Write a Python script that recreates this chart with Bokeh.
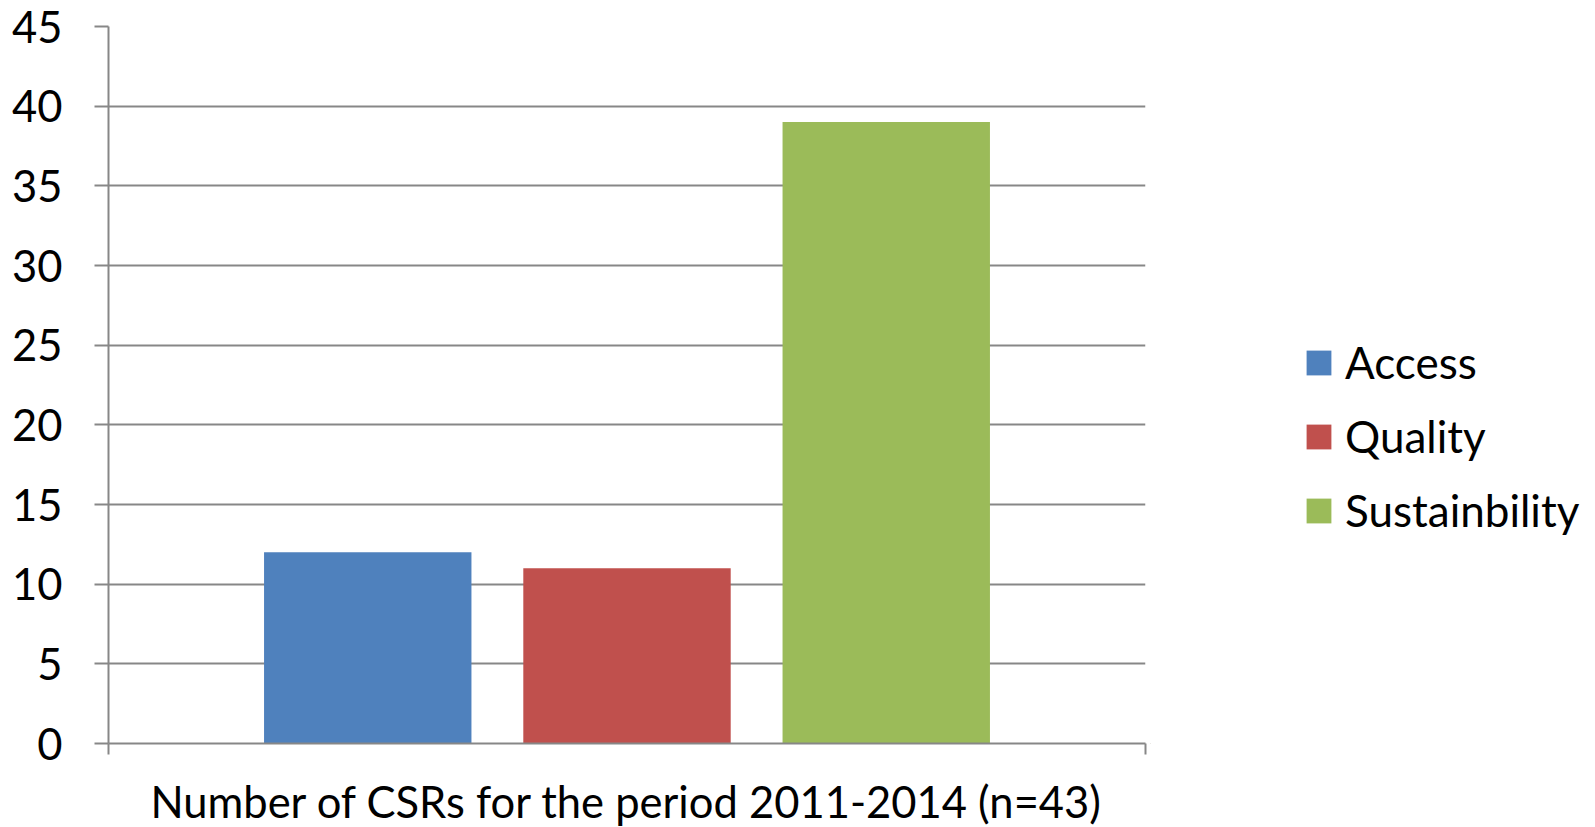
from bokeh.plotting import figure
from bokeh.layouts import row
from bokeh.models import Range1d, FixedTicker, Legend, LegendItem
from bokeh.embed import file_html
from bokeh.resources import INLINE

category_label = "Number of CSRs for the period 2011-2014 (n=43)"
series = ["Access", "Quality", "Sustainbility"]
counts = [12, 11, 39]
colors = ["#4F81BD", "#C0504D", "#9BBB59"]
y_ticks = [0, 5, 10, 15, 20, 25, 30, 35, 40, 45]

FONT = "Lato"
FS = "43.5px"
LFS = "44px"
GRAY = "#878787"
H = 840

p = figure(width=1150, height=H, output_backend="svg", toolbar_location=None,
           x_range=Range1d(0, len(series) + 1), y_range=Range1d(0, 45),
           min_border_left=108, min_border_right=5, min_border_top=26, min_border_bottom=H - 743)
p.outline_line_color = None
p.background_fill_color = "white"
p.border_fill_color = "white"

for i, s in enumerate(series):
    p.vbar(x=[i + 1], top=[counts[i]], width=0.8, color=colors[i], line_color=None)

# y axis
p.yaxis.ticker = FixedTicker(ticks=y_ticks)
p.yaxis.axis_line_color = GRAY
p.yaxis.axis_line_width = 2
p.yaxis.major_tick_line_color = GRAY
p.yaxis.major_tick_line_width = 2
p.yaxis.major_tick_out = 14
p.yaxis.major_tick_in = 0
p.yaxis.minor_tick_line_color = None
p.yaxis.major_label_text_font = FONT
p.yaxis.major_label_text_font_size = FS
p.yaxis.major_label_text_color = "black"
p.yaxis.major_label_standoff = 32

# x axis
p.xaxis.ticker = FixedTicker(ticks=[0, len(series) + 1])
p.xaxis.major_label_overrides = {0: "", len(series) + 1: ""}
p.xaxis.axis_line_color = GRAY
p.xaxis.axis_line_width = 2
p.xaxis.major_tick_line_color = GRAY
p.xaxis.major_tick_line_width = 2
p.xaxis.major_tick_out = 11
p.xaxis.major_tick_in = 0
p.xaxis.minor_tick_line_color = None
p.xaxis.major_label_text_font_size = "1px"
p.xaxis.axis_label = category_label
p.xaxis.axis_label_text_font = FONT
p.xaxis.axis_label_text_font_size = FS
p.xaxis.axis_label_text_font_style = "normal"
p.xaxis.axis_label_text_color = "black"
p.xaxis.axis_label_standoff = 20

p.xgrid.grid_line_color = None
p.ygrid.ticker = FixedTicker(ticks=y_ticks)
p.ygrid.grid_line_color = GRAY
p.ygrid.grid_line_width = 2

# legend panel (separate figure so the legend is not clipped by the plot frame)
q = figure(width=460, height=H, output_backend="svg", toolbar_location=None,
           x_axis_type=None, y_axis_type=None,
           x_range=Range1d(100, 101), y_range=Range1d(100, 101),
           min_border_left=0, min_border_right=0, min_border_top=0, min_border_bottom=0)
q.outline_line_color = None
q.background_fill_color = "white"
q.border_fill_color = "white"
q.grid.visible = False
legend_renderers = []
for i, s in enumerate(series):
    r = q.vbar(x=[i + 1], top=[counts[i]], width=0.8, color=colors[i], line_color=None)
    legend_renderers.append(r)

legend = Legend(items=[LegendItem(label=s, renderers=[legend_renderers[i]]) for i, s in enumerate(series)],
                location=(153, 206), orientation="vertical")
legend.border_line_color = None
legend.background_fill_alpha = 0
legend.padding = 0
legend.margin = 0
legend.glyph_width = 31
legend.glyph_height = 31
legend.label_height = 54
legend.label_standoff = 11
legend.spacing = 20
legend.label_text_font = FONT
legend.label_text_font_size = LFS
legend.label_text_color = "black"
q.add_layout(legend, "center")

open("out.html", "w").write(file_html(row(p, q), INLINE))
